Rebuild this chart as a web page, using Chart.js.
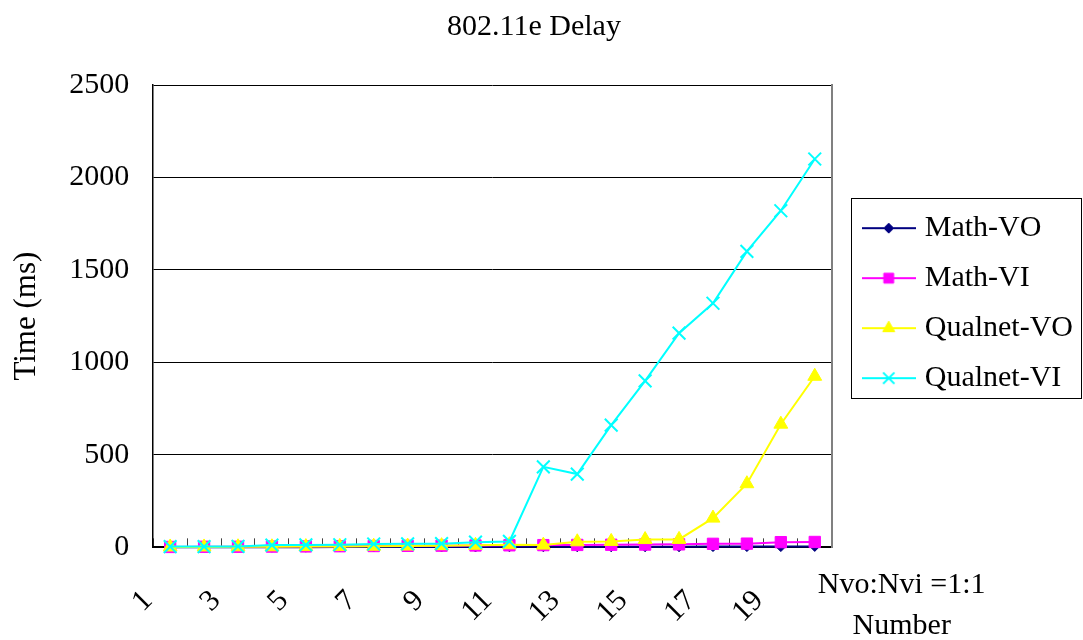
<!DOCTYPE html>
<html>
<head>
<meta charset="utf-8">
<title>802.11e Delay</title>
<script src="https://cdn.jsdelivr.net/npm/chart.js@4/dist/chart.umd.min.js"></script>
<style>
  html, body { margin: 0; padding: 0; background: #ffffff; }
  #wrap { width: 1083px; height: 640px; position: relative; }
</style>
</head>
<body>
<div id="wrap"><canvas id="delayChart" width="1083" height="640"></canvas></div>
<script>
// Number of stations (x categories)
const categories = ['1', '2', '3', '4', '5', '6', '7', '8', '9', '10',
                    '11', '12', '13', '14', '15', '16', '17', '18', '19', '20'];

// Delay in ms for each series
const mathVO    = [1, 1, 1, 1, 1, 2, 2, 2, 2, 2, 3, 3, 3, 3, 3, 3, 4, 4, 4, 5];
const mathVI    = [2, 3, 3, 4, 5, 6, 7, 8, 9, 10, 11, 12, 13, 14, 15, 16, 19, 20, 28, 29];
const qualnetVO = [2, 2, 3, 3, 4, 5, 6, 7, 9, 11, 14, 12, 30, 32, 42, 43, 158, 344, 666, 925];
const qualnetVI = [4, 4, 5, 12, 13, 14, 18, 19, 20, 28, 32, 435, 396, 661, 900, 1158, 1320, 1600, 1820, 2100];

// Axis ticks and texts
const yTicks = [0, 500, 1000, 1500, 2000, 2500];
const seriesNames = ['Math-VO', 'Math-VI', 'Qualnet-VO', 'Qualnet-VI'];
const chartTitle = '802.11e Delay';
const yTitle = 'Time (ms)';
const xNote = ['Nvo:Nvi =1:1', 'Number'];

// Styling
const FONT = "'Liberation Serif', 'Times New Roman', serif";
const seriesColors = ['#000080', '#FF00FF', '#FFFF00', '#00FFFF'];
const seriesMarkers = ['rectRot', 'rect', 'triangle', 'crossRot'];
const markerRadius = [5, 8, 8, 9];
const legendRadius = [5, 7, 7, 8];
const markerBorder = [1, 1, 1, 2];

Chart.defaults.font.family = FONT;
Chart.defaults.color = '#000000';

// Legend swatch: short line with the series marker in its middle
function makeSwatch(i) {
  const cv = document.createElement('canvas');
  cv.width = 54; cv.height = 20;
  const g = cv.getContext('2d');
  g.strokeStyle = seriesColors[i];
  g.lineWidth = 2;
  g.beginPath(); g.moveTo(0, 10); g.lineTo(54, 10); g.stroke();
  g.fillStyle = seriesColors[i];
  g.strokeStyle = seriesColors[i];
  g.lineWidth = markerBorder[i];
  Chart.helpers.drawPoint(g, {
    pointStyle: seriesMarkers[i], radius: legendRadius[i],
    borderWidth: markerBorder[i], rotation: 0
  }, 27, 10);
  return cv;
}
const swatches = seriesNames.map((_, i) => makeSwatch(i));

const seriesData = [mathVO, mathVI, qualnetVO, qualnetVI];
const datasets = seriesNames.map((name, i) => ({
  label: name,
  data: seriesData[i],
  borderColor: seriesColors[i],
  backgroundColor: seriesColors[i],
  borderWidth: 2,
  pointStyle: seriesMarkers[i],
  pointRadius: markerRadius[i],
  pointHoverRadius: markerRadius[i],
  pointBackgroundColor: seriesColors[i],
  pointBorderColor: seriesColors[i],
  pointBorderWidth: markerBorder[i],
  tension: 0,
  fill: false,
  clip: false,
  order: seriesNames.length - 1 - i
}));

// White page background
const background = {
  id: 'background',
  beforeDraw(chart) {
    const ctx = chart.ctx;
    ctx.save();
    ctx.fillStyle = '#ffffff';
    ctx.fillRect(0, 0, chart.width, chart.height);
    ctx.restore();
  }
};

// Raise the legend column a little above the plot's middle
const legendLift = {
  id: 'legendLift',
  afterLayout(chart) {
    const lg = chart.legend;
    if (!lg) return;
    lg.top -= 13;
    lg.bottom -= 13;
  }
};

// Frame around the legend entries
const legendFrame = {
  id: 'legendFrame',
  afterDraw(chart) {
    const hb = chart.legend && chart.legend.legendHitBoxes;
    if (!hb || !hb.length) return;
    const first = hb[0], last = hb[hb.length - 1];
    const left = Math.round(first.left - 17) + 0.5;
    const top = Math.round(first.top - 15) + 0.5;
    const bottom = Math.round(last.top + last.height + 5) + 0.5;
    const right = chart.width - 1.5;
    const ctx = chart.ctx;
    ctx.save();
    ctx.strokeStyle = '#000000';
    ctx.lineWidth = 1;
    ctx.strokeRect(left, top, right - left, bottom - top);
    ctx.restore();
  }
};

// Note under the right end of the x axis
const axisNote = {
  id: 'axisNote',
  afterDraw(chart) {
    const ctx = chart.ctx;
    const area = chart.chartArea;
    ctx.save();
    ctx.font = '30px ' + FONT;
    ctx.fillStyle = '#000000';
    ctx.textAlign = 'center';
    ctx.textBaseline = 'alphabetic';
    const cx = area.right + 70;
    ctx.fillText(xNote[0], cx, area.bottom + 46);
    ctx.fillText(xNote[1], cx, area.bottom + 87);
    ctx.restore();
  }
};

new Chart(document.getElementById('delayChart'), {
  type: 'line',
  data: { labels: categories, datasets },
  plugins: [background, legendLift, legendFrame, axisNote],
  options: {
    responsive: false,
    animation: false,
    devicePixelRatio: 1,
    layout: { padding: { left: -15, right: 0, top: 0, bottom: -35 } },
    plugins: {
      title: {
        display: true,
        text: chartTitle,
        color: '#000000',
        font: { family: FONT, size: 30, weight: 'normal' },
        padding: { top: 9, bottom: 40 }
      },
      legend: {
        display: true,
        position: 'right',
        align: 'center',
        fullSize: false,
        maxWidth: 300,
        labels: {
          font: { family: FONT, size: 30 },
          color: '#000000',
          usePointStyle: true,
          pointStyleWidth: 42,
          padding: 20,
          sort: (a, b) => a.datasetIndex - b.datasetIndex,
          generateLabels(chart) {
            const items = Chart.defaults.plugins.legend.labels.generateLabels(chart);
            items.forEach(it => { it.pointStyle = swatches[it.datasetIndex]; });
            return items;
          }
        }
      },
      tooltip: { enabled: false }
    },
    scales: {
      x: {
        type: 'category',
        offset: true,
        grid: {
          display: true,
          offset: true,
          drawOnChartArea: false,
          drawTicks: true,
          tickLength: -9,
          color: '#404040',
          lineWidth: 1
        },
        border: { display: true, color: '#000000', width: 2 },
        ticks: {
          autoSkip: false,
          maxRotation: 45,
          minRotation: 45,
          padding: 45,
          labelOffset: -22,
          font: { family: FONT, size: 30 },
          color: '#000000',
          callback(value, index) {
            return index % 2 === 0 ? categories[index] : '';
          }
        }
      },
      y: {
        type: 'linear',
        min: yTicks[0],
        max: yTicks[yTicks.length - 1],
        afterBuildTicks(scale) {
          scale.ticks = yTicks.map(v => ({ value: v }));
        },
        grid: {
          display: true,
          drawTicks: false,
          color: '#000000',
          lineWidth: 1
        },
        border: { display: true, color: '#000000', width: 1.5 },
        ticks: {
          padding: 24,
          font: { family: FONT, size: 30 },
          color: '#000000',
          callback: (v) => String(v)
        },
        title: {
          display: true,
          text: yTitle,
          color: '#000000',
          font: { family: FONT, size: 31, weight: 'normal' },
          padding: { top: 23, bottom: 0 }
        }
      },
      frame: {
        type: 'linear',
        position: 'right',
        display: true,
        grid: { display: false, drawOnChartArea: false, drawTicks: false },
        border: { display: true, color: '#808080', width: 2 },
        ticks: { display: false },
        afterFit(scale) { scale.width = 16; }
      }
    }
  }
});
</script>
</body>
</html>
